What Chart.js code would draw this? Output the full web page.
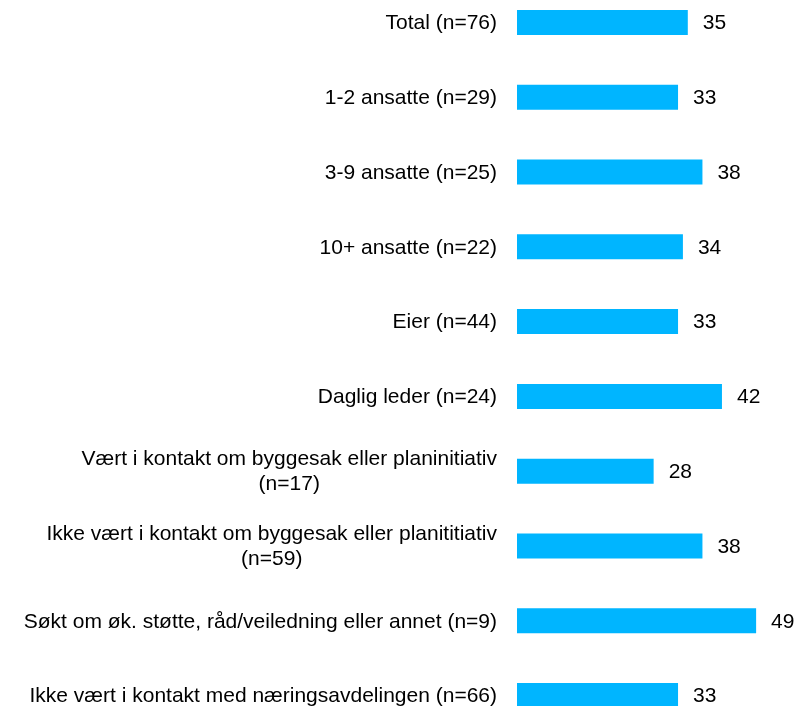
<!DOCTYPE html>
<html>
<head>
<meta charset="utf-8">
<script src="https://cdn.jsdelivr.net/npm/chart.js@4"></script>
<style>
  html, body { margin: 0; padding: 0; background: #fff; overflow: hidden; }
  #wrap { position: absolute; left: 0; top: -15px; width: 798px; height: 748px; }
</style>
</head>
<body>
<div id="wrap"><canvas id="myChart" width="798" height="748"></canvas></div>
<script>
'use strict';

// DATA
let groupLabels = [
  'Total (n=76)',
  '1-2 ansatte (n=29)',
  '3-9 ansatte (n=25)',
  '10+ ansatte (n=22)',
  'Eier (n=44)',
  'Daglig leder (n=24)',
  ['Vært i kontakt om byggesak eller planinitiativ', '(n=17)'],
  ['Ikke vært i kontakt om byggesak eller planititiativ', '(n=59)'],
  'Søkt om øk. støtte, råd/veiledning eller annet (n=9)',
  'Ikke vært i kontakt med næringsavdelingen (n=66)'
];
let groupValues = [35, 33, 38, 34, 33, 42, 28, 38, 49, 33];

const FONT = '21px "Liberation Sans", Arial, sans-serif';

// category labels: right aligned block, multi-line labels centered inside the block
const categoryLabels = {
  id: 'categoryLabels',
  afterDraw(chart) {
    let ctx = chart.ctx;
    let yScale = chart.scales.y;
    let rightEdge = chart.chartArea.left - 20;
    ctx.save();
    ctx.font = FONT;
    ctx.fillStyle = '#000';
    ctx.textBaseline = 'middle';
    groupLabels.forEach(function (label, i) {
      let y = yScale.getPixelForTick(i);
      if (Array.isArray(label)) {
        let maxW = 0;
        label.forEach(function (line) {
          maxW = Math.max(maxW, ctx.measureText(line).width);
        });
        let cx = rightEdge - maxW / 2;
        ctx.textAlign = 'center';
        label.forEach(function (line, j) {
          ctx.fillText(line, cx, y + 1 + (j - (label.length - 1) / 2) * 25);
        });
      } else {
        ctx.textAlign = 'right';
        ctx.fillText(label, rightEdge, y + 1);
      }
    });
    ctx.restore();
  }
};

// value labels to the right of each bar
const valueLabels = {
  id: 'valueLabels',
  afterDatasetsDraw(chart) {
    let ctx = chart.ctx;
    let meta = chart.getDatasetMeta(0);
    ctx.save();
    ctx.font = FONT;
    ctx.fillStyle = '#000';
    ctx.textAlign = 'left';
    ctx.textBaseline = 'middle';
    meta.data.forEach(function (bar, i) {
      ctx.fillText(String(groupValues[i]), bar.x + 15, bar.y + 1);
    });
    ctx.restore();
  }
};

const ctx = document.getElementById('myChart');
const myChart = new Chart(ctx, {
  type: 'bar',
  data: {
    labels: groupLabels,
    datasets: [{
      data: groupValues,
      backgroundColor: '#00b5ff',
      borderWidth: 0,
      barPercentage: 0.334,
      categoryPercentage: 1
    }]
  },
  options: {
    indexAxis: 'y',
    responsive: false,
    animation: false,
    layout: { padding: { left: 0, right: 37, top: 0, bottom: 0 } },
    plugins: {
      legend: { display: false },
      tooltip: { enabled: false }
    },
    scales: {
      x: {
        display: false,
        min: 0,
        max: 50
      },
      y: {
        grid: { display: false, drawTicks: false },
        border: { display: false },
        ticks: { display: false },
        afterFit(scale) {
          scale.width = 517;
          scale.paddingTop = 0;
          scale.paddingBottom = 0;
        }
      }
    }
  },
  plugins: [valueLabels, categoryLabels]
});
</script>
</body>
</html>
